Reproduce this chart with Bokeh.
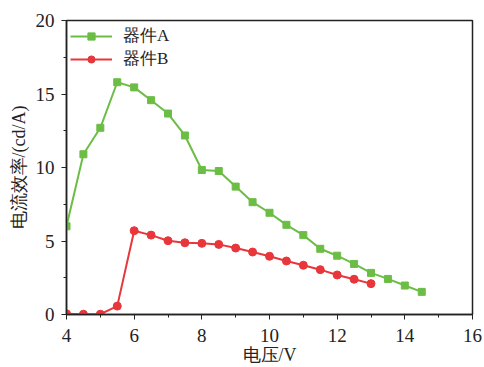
from bokeh.plotting import figure
from bokeh.models import Range1d, Legend, LegendItem, SingleIntervalTicker
from bokeh.embed import file_html
from bokeh.resources import INLINE

voltage_a = [4, 4.5, 5, 5.5, 6, 6.5, 7, 7.5, 8, 8.5, 9, 9.5, 10, 10.5, 11, 11.5, 12, 12.5, 13, 13.5, 14, 14.5]
eff_a = [6.0, 10.9, 12.7, 15.8, 15.45, 14.58, 13.67, 12.18, 9.83, 9.76, 8.7, 7.64, 6.92, 6.1, 5.4, 4.47, 4.0, 3.44, 2.83, 2.42, 1.97, 1.54]
voltage_b = [4, 4.5, 5, 5.5, 6, 6.5, 7, 7.5, 8, 8.5, 9, 9.5, 10, 10.5, 11, 11.5, 12, 12.5, 13]
eff_b = [0.05, 0.02, 0.02, 0.57, 5.7, 5.4, 5.02, 4.88, 4.84, 4.77, 4.52, 4.25, 3.96, 3.64, 3.35, 3.05, 2.69, 2.4, 2.1]
label_a = "器件A"
label_b = "器件B"
x_label = "电压/V"
y_label = "电流效率/(cd/A)"

FONT = "Liberation Serif"
green = "#6cbd45"
red = "#e8363b"

p = figure(width=484, height=367, output_backend="svg", toolbar_location=None,
           x_range=Range1d(4, 16), y_range=Range1d(0, 20),
           min_border_left=66, min_border_right=12, min_border_top=20, min_border_bottom=52)
p.xgrid.visible = False
p.ygrid.visible = False
p.outline_line_color = "#222222"
p.outline_line_width = 1.5
p.background_fill_color = "white"
p.border_fill_color = "white"

p.xaxis.ticker = SingleIntervalTicker(interval=2, num_minor_ticks=2)
p.yaxis.ticker = SingleIntervalTicker(interval=5, num_minor_ticks=2)

for ax in (p.xaxis[0], p.yaxis[0]):
    ax.axis_line_color = "#222222"
    ax.axis_line_width = 1.5
    ax.major_tick_line_color = "#222222"
    ax.minor_tick_line_color = "#222222"
    ax.major_tick_in = 0
    ax.major_tick_out = 5
    ax.minor_tick_in = 0
    ax.minor_tick_out = 3
    ax.major_label_text_font = FONT
    ax.major_label_text_font_size = "19px"
    ax.major_label_text_color = "#222222"
    ax.axis_label_text_font = FONT
    ax.axis_label_text_font_size = "18px"
    ax.axis_label_text_font_style = "normal"
    ax.axis_label_text_color = "#222222"

p.xaxis.axis_label = x_label
p.yaxis.axis_label = y_label
p.xaxis.major_label_standoff = 9
p.xaxis.axis_label_standoff = 0
p.yaxis.major_label_standoff = 7
p.yaxis.axis_label_standoff = 4

la = p.line(voltage_a, eff_a, line_color=green, line_width=2)
ma = p.scatter(voltage_a, eff_a, marker="square", size=7, fill_color=green, line_color=green)
lb = p.line(voltage_b, eff_b, line_color=red, line_width=2)
mb = p.scatter(voltage_b, eff_b, marker="circle", size=8, fill_color=red, line_color=red)

legend = Legend(items=[LegendItem(label=label_a, renderers=[la, ma]),
                       LegendItem(label=label_b, renderers=[lb, mb])],
                location="top_left")
legend.border_line_color = None
legend.background_fill_alpha = 0
legend.label_text_font = FONT
legend.label_text_font_size = "17px"
legend.label_text_color = "#222222"
legend.glyph_width = 42
legend.glyph_height = 18
legend.label_height = 18
legend.spacing = 0
legend.padding = 5
legend.margin = 4
legend.label_standoff = 11
p.add_layout(legend)

open("out.html", "w").write(file_html(p, INLINE))
